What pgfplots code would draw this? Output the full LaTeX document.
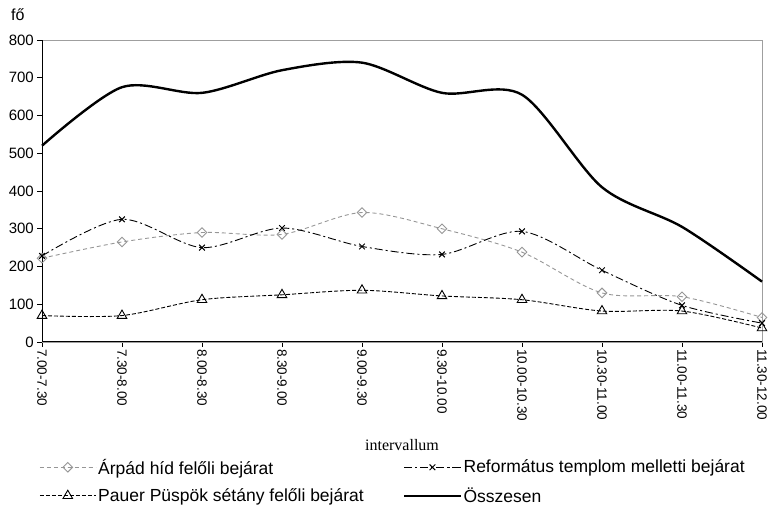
\documentclass[border=0pt]{standalone}
\usepackage{pgfplots}
\pgfplotsset{compat=1.18}
\usepackage{fontspec}
\setmainfont{Liberation Sans}
\newfontfamily\serifx{Liberation Serif}
\definecolor{arpad}{RGB}{150,150,150}
\begin{document}
\begin{tikzpicture}[x=1pt,y=1pt]
\useasboundingbox (0,0) rectangle (768,508);
\begin{axis}[
  at={(42pt,166pt)}, anchor=south west,
  width=720pt, height=302pt, scale only axis,
  xmin=0, xmax=9, ymin=0, ymax=800,
  clip=false,
  xtick={0,...,9},
  xticklabels={7.00-7.30,7.30-8.00,8.00-8.30,8.30-9.00,9.00-9.30,9.30-10.00,10.00-10.30,10.30-11.00,11.00-11.30,11.30-12.00},
  ytick={0,100,...,800},
  tick align=outside, xtick pos=bottom, ytick pos=left,
  major tick length=5pt,
  tick style={black, line width=0.8pt},
  axis line style={draw=gray!75, line width=0.8pt},
  /pgf/number format/assume math mode=true,
  x tick label style={rotate=-90, anchor=west, font=\fontsize{13.5}{16}\selectfont, inner sep=2pt},
  y tick label style={font=\fontsize{15}{17}\selectfont, inner sep=3pt},
  legend style={draw=none, fill=none, at={(axis description cs:-0.004,-0.38)}, anchor=north west,
    inner sep=0pt, font=\fontsize{17.5}{20}\selectfont, row sep=8pt},
  legend columns=2, legend cell align=left,
  legend image code/.code={\draw[mark repeat=2,mark phase=2,#1] plot coordinates {(0pt,0pt) (28pt,0pt) (56pt,0pt)};},
]
\addplot[color=arpad, line width=0.9pt, dash pattern=on 4pt off 3pt, smooth,
  mark=square, mark size=3.4pt, mark options={solid, fill=white, rotate=45, draw=arpad}]
  coordinates {(0,222) (1,265) (2,290) (3,285) (4,343) (5,300) (6,238) (7,130) (8,120) (9,65)};
\addlegendentry{\makebox[303pt][l]{Árpád híd felőli bejárat}}
\addplot[color=black, line width=0.9pt, dash pattern=on 8pt off 3pt on 2pt off 3pt, smooth,
  mark=x, mark size=4pt, mark options={solid, line width=1pt}]
  coordinates {(0,228) (1,325) (2,250) (3,302) (4,253) (5,232) (6,293) (7,190) (8,97) (9,50)};
\addlegendentry{Református templom melletti bejárat}
\addplot[color=black, line width=0.9pt, dash pattern=on 4pt off 2pt, smooth,
  mark=triangle, mark size=5.5pt, mark options={solid, fill=white}]
  coordinates {(0,70) (1,70) (2,112) (3,125) (4,137) (5,122) (6,112) (7,82) (8,82) (9,37)};
\addlegendentry{\makebox[303pt][l]{Pauer Püspök sétány felőli bejárat}}
\addplot[color=black, line width=2.4pt, smooth, no marks]
  coordinates {(0,520) (1,675) (2,660) (3,720) (4,740) (5,660) (6,655) (7,410) (8,305) (9,160)};
\addlegendentry{Összesen}
\draw[black, line width=1pt] (rel axis cs:0,1) -- (rel axis cs:0,0) -- (rel axis cs:1,0);
\end{axis}
\node[anchor=base west, inner sep=0pt, font=\fontsize{16}{18}\selectfont] at (11,487) {fő};
\node[anchor=base, inner sep=0pt, font=\serifx\fontsize{16}{18}\selectfont] at (402,57) {intervallum};
\end{tikzpicture}
\end{document}
